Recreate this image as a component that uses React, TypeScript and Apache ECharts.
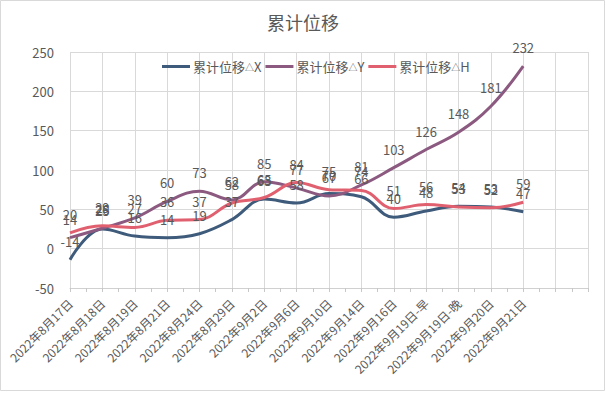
import React, { useEffect, useRef } from "react";
import * as echarts from "echarts";

const categories = [
  "2022年8月17日", "2022年8月18日", "2022年8月19日", "2022年8月21日", "2022年8月24日",
  "2022年8月29日", "2022年9月2日", "2022年9月6日", "2022年9月10日", "2022年9月14日",
  "2022年9月16日", "2022年9月19日-早", "2022年9月19日-晚", "2022年9月20日", "2022年9月21日",
  "", "",
];
const seriesX = [-14, 25, 16, 14, 19, 37, 63, 58, 70, 66, 40, 48, 54, 53, 47];
const seriesY = [14, 26, 39, 60, 73, 62, 85, 77, 67, 81, 103, 126, 148, 181, 232];
const seriesH = [20, 29, 27, 36, 37, 58, 65, 84, 75, 74, 51, 56, 53, 52, 59];
const names = ["累计位移△X", "累计位移△Y", "累计位移△H"];
const colors = ["#3f5b7b", "#8c5a80", "#e0606f"];

const FONT = "'Noto Sans CJK SC', 'Noto Sans', sans-serif";

export default function App() {
  const ref = useRef<HTMLDivElement>(null);
  useEffect(() => {
    document.body.style.margin = "0";
    const chart = echarts.init(ref.current!, null, { renderer: "svg" });
    const mk = (name: string, data: number[], color: string) => ({
      name,
      type: "line",
      data,
      smooth: 0.4,
      symbol: "circle",
      symbolSize: 0,
      showSymbol: true,
      lineStyle: { color, width: 3 },
      itemStyle: { color },
      label: {
        show: true,
        position: "top",
        distance: 12,
        color: "#595959",
        fontSize: 13,
        fontFamily: FONT,
      },
      xAxisIndex: 0,
      yAxisIndex: 0,
    });
    chart.setOption({
      animation: false,
      textStyle: { fontFamily: FONT },
      title: {
        text: "累计位移",
        left: "center",
        top: 8,
        textStyle: { fontSize: 18, fontWeight: "normal", color: "#595959", fontFamily: FONT },
      },
      legend: {
        top: 55,
        left: 157,
        icon: "rect",
        itemWidth: 28,
        itemHeight: 3,
        itemGap: 4,
        data: names,
        formatter: (n: string) => {
          const parts = n.split("△");
          return `{a|${parts[0]}}{t|△}{a|${parts[1]}}`;
        },
        textStyle: {
          fontSize: 13,
          color: "#595959",
          fontFamily: FONT,
          padding: [0, 0, 0, -2],
          rich: {
            a: { fontSize: 13, color: "#595959", fontFamily: FONT },
            t: { fontSize: 9, color: "#595959", fontFamily: FONT, padding: [2, 0, 0, 0] },
          },
        },
      },
      graphic: [
        {
          type: "rect",
          shape: { x: 0.5, y: 0.5, width: 604, height: 390 },
          style: { fill: "none", stroke: "#d9d9d9", lineWidth: 1 },
          silent: true,
        },
      ],
      grid: { left: 70, right: 18, top: 52, bottom: 111 },
      xAxis: [
        {
          type: "category",
          data: categories,
          boundaryGap: false,
          axisLine: { show: true, onZero: true, lineStyle: { color: "#d9d9d9" } },
          axisTick: { show: false },
          splitLine: { show: true, lineStyle: { color: "#d9d9d9" } },
          axisLabel: {
            rotate: 45,
            interval: 0,
            color: "#595959",
            fontSize: 12,
            fontFamily: FONT,
            margin: 13,
          },
        },
        {
          type: "value",
          position: "bottom",
          min: 0,
          max: 16,
          interval: 0.5,
          axisLine: { show: true, onZero: true, lineStyle: { color: "#d0d0d0" } },
          axisTick: { show: true, length: 4, lineStyle: { color: "#c8c8c8" } },
          axisLabel: { show: false },
          splitLine: { show: false },
        },
      ],
      yAxis: {
        type: "value",
        min: -50,
        max: 250,
        interval: 50,
        axisLine: { show: false },
        axisTick: { show: false },
        splitLine: { show: true, lineStyle: { color: "#d9d9d9" } },
        axisLabel: { color: "#595959", fontSize: 13, fontFamily: FONT, margin: 16 },
      },
      series: [
        mk(names[0], seriesX, colors[0]),
        mk(names[1], seriesY, colors[1]),
        mk(names[2], seriesH, colors[2]),
      ],
    });
    return () => chart.dispose();
  }, []);
  return <div ref={ref} style={{ width: 606, height: 399 }} />;
}
